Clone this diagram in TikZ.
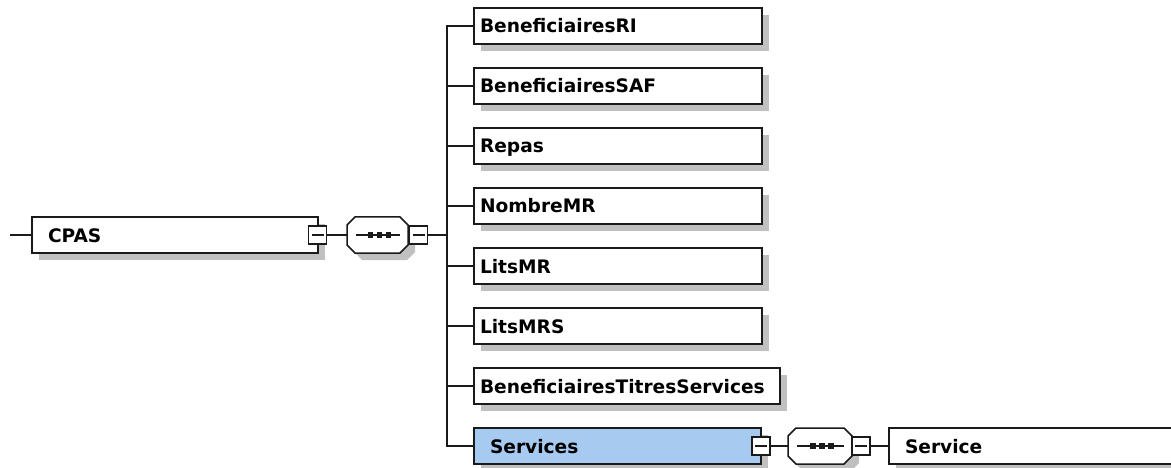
\documentclass[tikz,border=0pt]{standalone}
\usepackage{fontspec}
\setmainfont{DejaVu Sans}
\usetikzlibrary{shadows,calc}
\definecolor{shadowgray}{HTML}{C0C0C0}
\definecolor{selblue}{HTML}{A6CAF0}
\definecolor{linec}{HTML}{1A1A1A}
\tikzset{
  conn/.style={line width=1.5pt, draw=linec},
  elbox/.style={rectangle, draw=linec, line width=1.5pt, fill=white, outer sep=0pt,
    anchor=north west, minimum height=36pt, inner ysep=0pt, inner xsep=6pt,
    text height=16pt, text depth=2pt, align=left,
    font=\bfseries\fontsize{18.6}{20}\selectfont,
    drop shadow={shadow xshift=7pt, shadow yshift=-7pt, fill=shadowgray, opacity=1}},
  minusbox/.style={rectangle, draw=linec, line width=1.5pt, fill=white, outer sep=0pt,
    minimum size=18pt, inner sep=0pt,
    path picture={\draw[line width=1.3pt, draw=linec] ([xshift=3pt]path picture bounding box.west) -- ([xshift=-3pt]path picture bounding box.east);}},
  seqanchor/.style={rectangle, minimum height=36pt, inner sep=0pt, outer sep=0pt},
  octline/.style={line width=1.5pt, draw=linec, fill=white},
}
\newcommand\drawoct[1]{%
  \fill[shadowgray] ($(#1.north west)+(15,7)$) -- ($(#1.north east)+(-1,7)$) -- ($(#1.north east)+(7,15)$) -- ($(#1.south east)+(7,-1)$) -- ($(#1.south east)+(-1,7)$) -- ($(#1.south west)+(15,7)$) -- ($(#1.south west)+(7,-1)$) -- ($(#1.north west)+(7,15)$) -- cycle;
  \draw[octline] ($(#1.north west)+(8,0)$) -- ($(#1.north east)+(-8,0)$) -- ($(#1.north east)+(0,8)$) -- ($(#1.south east)+(0,-8)$) -- ($(#1.south east)+(-8,0)$) -- ($(#1.south west)+(8,0)$) -- ($(#1.south west)+(0,-8)$) -- ($(#1.north west)+(0,8)$) -- cycle;
  \draw[line width=1.3pt, draw=linec] ($(#1.west)+(9,0)$) -- ($(#1.east)+(-8,0)$);
  \foreach \dx in {-7,2,11} {\fill[linec] ($(#1.center)+(\dx,0)+(-2.6,-2.6)$) rectangle ($(#1.center)+(\dx,0)+(2.6,2.6)$);}
}
\begin{document}
\begin{tikzpicture}[x=1pt,y=-1pt]
\useasboundingbox (0,0) rectangle (1171,468);
\clip (0,0) rectangle (1171,468);
\fill[white] (0,0) rectangle (1171,468);

% root
\node[elbox, inner xsep=16pt, text width=254pt] (cpas) at (32,217) {CPAS};
\coordinate (in) at ($(cpas.west)+(-22,0)$);
\node[seqanchor, minimum width=61pt] (s1) at (377.5,235) {};
\drawoct{s1}
\node[minusbox] (m1) at (317.5,235) {};
\node[minusbox] (m2) at (418.5,235) {};
\coordinate (tj) at (447,235);

% children
\node[elbox, text width=276pt] (b1) at (474,8) {BeneficiairesRI};
\node[elbox, text width=276pt] (b2) at (474,68) {BeneficiairesSAF};
\node[elbox, text width=276pt] (b3) at (474,128) {Repas};
\node[elbox, text width=276pt] (b4) at (474,188) {NombreMR};
\node[elbox, text width=276pt] (b5) at (474,248) {LitsMR};
\node[elbox, text width=276pt] (b6) at (474,308) {LitsMRS};
\node[elbox, text width=294pt] (b7) at (474,368) {BeneficiairesTitresServices};
\node[elbox, fill=selblue, inner xsep=16pt, text width=255pt] (b8) at (474,428) {Services};
\node[seqanchor, minimum width=64pt] (s2) at (820,446) {};
\drawoct{s2}
\node[minusbox] (m3) at (761,446) {};
\node[minusbox] (m4) at (861,446) {};
\node[elbox, inner xsep=16pt, text width=300pt] (svc) at (889,428) {Service};

% connectors
\draw[conn] (in) -- (cpas.west);
\draw[conn] (m1.east) -- (s1.west);
\draw[conn] (m2.east) -- (tj);
\foreach \b in {b1,b2,b3,b4,b5,b6,b7,b8} {\draw[conn] (\b.west) -| (tj);}
\draw[conn] (m3.east) -- (s2.west);
\draw[conn] (m4.east) -- (svc.west);
\end{tikzpicture}
\end{document}
